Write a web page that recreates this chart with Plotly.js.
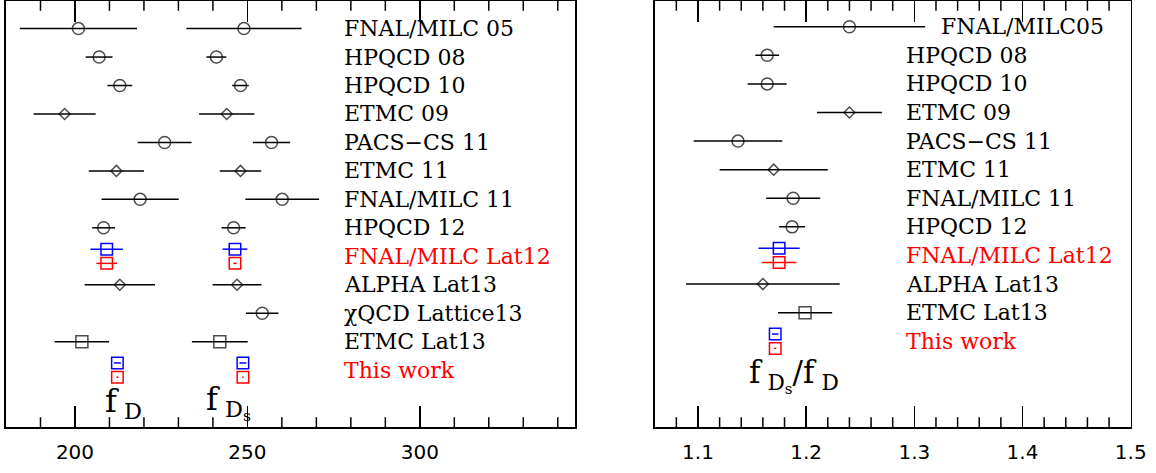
<!DOCTYPE html>
<html><head><meta charset="utf-8">
<script src="https://cdn.plot.ly/plotly-3.0.1.min.js"></script>
<style>html,body{margin:0;padding:0;background:#fff;} #chart{width:1156px;height:473px;}</style>
</head><body><div id="chart"></div>
<script>
// ---------- data ----------
const labelsDecay = ["FNAL/MILC 05","HPQCD 08","HPQCD 10","ETMC 09","PACS\u2212CS 11","ETMC 11","FNAL/MILC 11","HPQCD 12","FNAL/MILC Lat12","ALPHA Lat13","\u03c7QCD Lattice13","ETMC Lat13","This work"];
const fD      = [201, 207, 213, 197, 226, 212, 218.9, 208.3, 209.2, 213, null, 202, 212.3];
const fDErr   = [17, 3.9, 3.6, 9, 7.8, 8, 11.2, 3.3, 4.7, 10.2, null, 7.9, 1.0];
const fDStat  = [null, null, null, null, null, null, null, null, 3.0, null, null, null, 0.3];
const fDs     = [249, 241, 248, 244, 257, 248, 260.1, 246, 246.4, 247, 254.3, 242, 248.7];
const fDsErr  = [16.7, 2.9, 2.4, 8, 5.4, 6, 10.7, 3.5, 3.6, 7.1, 4.7, 8.1, 1.0];
const fDsStat = [null, null, null, null, null, null, null, null, 0.5, null, null, null, 0.2];

const labelsRatio = ["FNAL/MILC05","HPQCD 08","HPQCD 10","ETMC 09","PACS\u2212CS 11","ETMC 11","FNAL/MILC 11","HPQCD 12","FNAL/MILC Lat12","ALPHA Lat13","ETMC Lat13","This work"];
const ratio     = [1.24, 1.164, 1.164, 1.24, 1.137, 1.17, 1.188, 1.187, 1.175, 1.160, 1.199, 1.1714];
const ratioErr  = [0.07, 0.011, 0.018, 0.03, 0.041, 0.05, 0.025, 0.012, 0.019, 0.071, 0.025, 0.003];
const ratioStat = [null, null, null, null, null, null, null, null, 0.016, null, null, 0.001];

const tickValsDecay = [200, 250, 300];
const tickValsRatio = [1.1, 1.2, 1.3, 1.4, 1.5];

// ---------- styles ----------
const symbolFor = {"ETMC 09":"diamond-open","ETMC 11":"diamond-open","ALPHA Lat13":"diamond-open","ETMC Lat13":"square-open"};
const sizeFor = {"diamond-open":8.5, "circle-open":12, "square-open":12};
const BLUE = "#0000ff", RED = "#ff0000";

function panelTraces(labels, vals, errs, stats, xa, ya) {
  const out = [];
  const bk = {x:[], y:[], e:[], s:[], z:[]};
  const bl = {x:[], y:[], e:[]};
  const rd = {x:[], y:[], e:[]};
  labels.forEach((lab, i) => {
    const v = vals[i];
    if (v === null) return;
    const k = i + 1;
    if (stats[i] === null) {
      const sym = symbolFor[lab] || "circle-open";
      bk.x.push(v); bk.y.push(k); bk.e.push(errs[i]); bk.s.push(sym); bk.z.push(sizeFor[sym]);
    } else {
      bl.x.push(v); bl.y.push(k - 0.25); bl.e.push(errs[i]);
      rd.x.push(v); rd.y.push(k + 0.25); rd.e.push(stats[i]);
    }
  });
  out.push({type:"scatter", mode:"markers", x:bk.x, y:bk.y, xaxis:xa, yaxis:ya,
    marker:{symbol:bk.s, size:bk.z, color:"black", line:{width:1.5, color:"black"}},
    error_x:{type:"data", array:bk.e, visible:true, color:"black", thickness:1.5, width:0},
    showlegend:false, hoverinfo:"skip"});
  out.push({type:"scatter", mode:"markers", x:bl.x, y:bl.y, xaxis:xa, yaxis:ya,
    marker:{symbol:"square-open", size:11.5, color:BLUE, line:{width:1.5, color:BLUE}},
    error_x:{type:"data", array:bl.e, visible:true, color:BLUE, thickness:1.5, width:0},
    showlegend:false, hoverinfo:"skip"});
  out.push({type:"scatter", mode:"markers", x:rd.x, y:rd.y, xaxis:xa, yaxis:ya,
    marker:{symbol:"square-open", size:11.5, color:RED, line:{width:1.5, color:RED}},
    error_x:{type:"data", array:rd.e, visible:true, color:RED, thickness:1.5, width:0},
    showlegend:false, hoverinfo:"skip"});
  return out;
}

const W = 1156, H = 473;
const yDom = [46/H, 472/H];
const domL = [6/W, 575/W], domR = [654.7/W, 1130.7/W];
const rangeL = [180, 345], rangeR = [1.06, 1.5];
const yRangeL = [15, 0.03], yRangeR = [15, 0.1];

// short (minor) frame ticks: 5 subdivisions of the major step, drawn as clipped
// vertical-line markers sitting on the bottom and top frame edges
function minorTickTrace(tv, range, yr, xa, ya) {
  const step = (tv[1] - tv[0]) / 5;
  const xs = [], ys = [];
  const nMin = Math.ceil((range[0] - tv[0]) / step), nMax = Math.floor((range[1] - tv[0]) / step);
  for (let n = nMin; n <= nMax; n++) {
    if (n % 5 === 0) continue;
    const v = +(tv[0] + n * step).toFixed(6);
    if (v <= range[0] || v >= range[1]) continue;
    xs.push(v, v); ys.push(yr[0], yr[1]);
  }
  return {type:"scatter", mode:"markers", x:xs, y:ys, xaxis:xa, yaxis:ya, cliponaxis:true,
    marker:{symbol:"line-ns-open", size:14, color:"black", line:{width:1.5, color:"black"}},
    showlegend:false, hoverinfo:"skip"};
}

const traces = [].concat(
  panelTraces(labelsDecay, fD, fDErr, fDStat, "x", "y"),
  panelTraces(labelsDecay, fDs, fDsErr, fDsStat, "x", "y"),
  panelTraces(labelsRatio, ratio, ratioErr, ratioStat, "x2", "y2"),
  [minorTickTrace(tickValsDecay, rangeL, yRangeL, "x", "y"),
   minorTickTrace(tickValsRatio, rangeR, yRangeR, "x2", "y2")]
);

const labelFont = (c) => ({family:"DejaVu Serif", size:22, color:c});
const annotations = [];
labelsDecay.forEach((lab, i) => {
  const hi = fDStat[i] !== null || fDsStat[i] !== null;
  annotations.push({xref:"x", yref:"y", x:277.5, y:i+1, text:lab, showarrow:false,
    xanchor:"left", yanchor:"middle", font:labelFont(hi ? RED : "black")});
});
const labelXRatio = {"FNAL/MILC05": 1.3225};
labelsRatio.forEach((lab, i) => {
  const hi = ratioStat[i] !== null;
  annotations.push({xref:"x2", yref:"y2", x:labelXRatio[lab] || 1.2905, y:i+1, text:lab, showarrow:false,
    xanchor:"left", yanchor:"middle", font:labelFont(hi ? RED : "black")});
});
annotations.push({xref:"x", yref:"y", x:214.2, y:14.15, text:"f<sub> D</sub>", showarrow:false,
  xanchor:"center", yanchor:"middle", font:{family:"DejaVu Serif", size:32, color:"black"}});
annotations.push({xref:"x", yref:"y", x:244.6, y:14.15, text:"f<sub> D<sub>s</sub></sub>", showarrow:false,
  xanchor:"center", yanchor:"middle", font:{family:"DejaVu Serif", size:32, color:"black"}});
annotations.push({xref:"x2", yref:"y2", x:1.1885, y:13.2, text:"f<sub> D<sub>s</sub></sub>/f<sub> D</sub>", showarrow:false,
  xanchor:"center", yanchor:"middle", font:{family:"DejaVu Serif", size:31, color:"black"}});

function xAxis(dom, range, tv, anchor) {
  return {domain:dom, range:range, anchor:anchor, tickmode:"linear", tick0:tv[0], dtick:tv[1]-tv[0],
    ticks:"inside", ticklen:21, tickwidth:1.5, tickcolor:"black",
    showline:true, linewidth:1.6, linecolor:"black", mirror:"ticks", showgrid:false, zeroline:false,
    tickfont:{family:"DejaVu Sans", size:20, color:"black"}, ticklabelstandoff:6, automargin:false, fixedrange:true};
}
function yAxis(range, anchor) {
  return {domain:yDom, range:range, anchor:anchor, showticklabels:false, ticks:"", showline:true, linewidth:1.6,
    linecolor:"black", mirror:true, showgrid:false, zeroline:false, automargin:false, fixedrange:true};
}
const layout = {
  width:W, height:H, margin:{l:0, r:0, t:0, b:0}, paper_bgcolor:"white", plot_bgcolor:"white",
  showlegend:false,
  xaxis: xAxis(domL, rangeL, tickValsDecay, "y"),
  yaxis: yAxis(yRangeL, "x"),
  xaxis2: xAxis(domR, rangeR, tickValsRatio, "y2"),
  yaxis2: yAxis(yRangeR, "x2"),
  annotations: annotations
};
const ready = (document.fonts && document.fonts.load)
  ? Promise.all([document.fonts.load('22px "DejaVu Serif"'), document.fonts.load('20px "DejaVu Sans"')]).catch(() => {})
  : Promise.resolve();
ready.then(() => Plotly.newPlot("chart", traces, layout, {staticPlot:true, displayModeBar:false}));
</script></body></html>
